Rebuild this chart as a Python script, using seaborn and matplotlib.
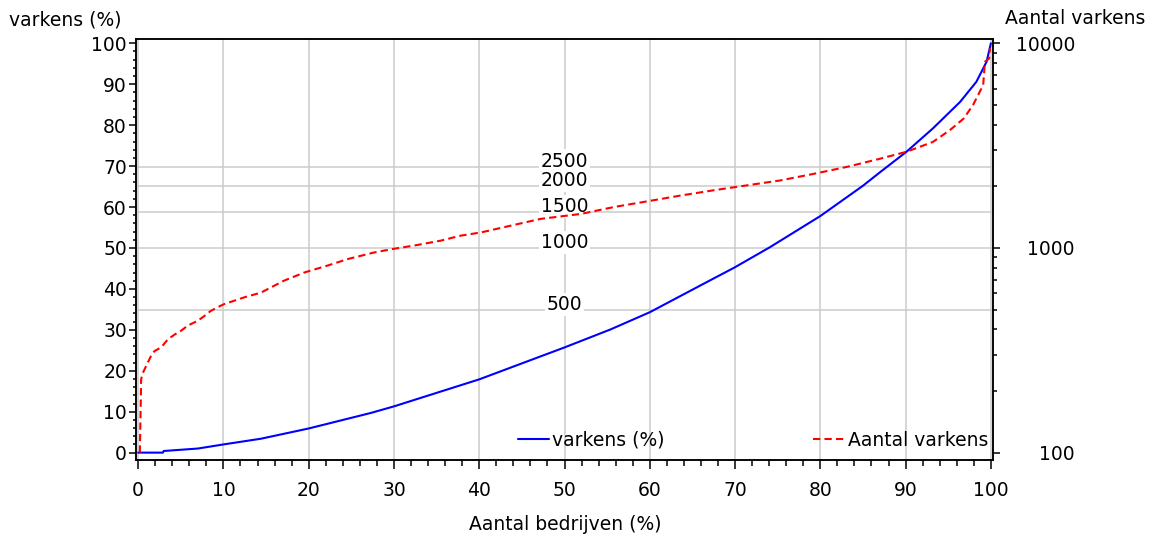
import matplotlib
matplotlib.use('Agg')
import numpy as np
import pandas as pd
import matplotlib.pyplot as plt
import matplotlib.transforms as mtrans
from matplotlib.ticker import MultipleLocator, LogLocator, NullFormatter
import seaborn as sns

# cumulatief % bedrijven vs cumulatief % varkens (Lorenz-curve)
farms_blue = [0, 2.9, 3.0, 7, 10, 14.4, 20, 27.3, 30, 40, 50, 55.4, 60, 65.9,
              70, 74.1, 80, 85, 87, 90.1, 93.2, 96.4, 98.3, 99.5, 100]
pigs_pct = [0, 0, 0.4, 1.0, 2.0, 3.4, 5.9, 9.7, 11.3, 17.9, 25.7, 30.1, 34.3,
            40.8, 45.3, 50.2, 57.8, 65.2, 68.5, 73.5, 79.2, 85.7, 90.6, 95.5, 100]

# aantal varkens per bedrijf (rechter as, log)
farms_red = [0.2, 0.3, 0.35, 0.55, 0.94, 1.5, 1.9, 2.7, 3.5, 4.3, 5.0, 5.8,
             7.0, 7.8, 8.5, 9.3, 10.1, 12.4, 14.4, 17.1, 19.5, 22.2, 24.6,
             27.7, 30.0, 32.4, 35.5, 37.8, 40.2, 47.2, 51.9, 55.8, 59.7, 63.6,
             67.5, 71.4, 75.3, 79.2, 83.1, 87.0, 90.1, 93.2, 95.2, 96.8, 97.9,
             99.1, 99.3, 99.8, 99.9]
pig_counts = [100, 169, 228, 245, 265, 296, 313, 327, 358, 378, 393, 417,
              441, 466, 492, 513, 532, 573, 605, 692, 759, 820, 883,
              951, 991, 1028, 1086, 1148, 1191, 1387, 1466, 1585, 1690, 1803,
              1914, 2023, 2138, 2301, 2489, 2729, 2951, 3296, 3767, 4285, 4989,
              6252, 8128, 8425, 9462]

ref_levels = [2500, 2000, 1500, 1000, 500]

df_blue = pd.DataFrame({'bedrijven': farms_blue, 'varkens': pigs_pct})
df_red = pd.DataFrame({'bedrijven': farms_red, 'aantal': pig_counts})

sns.set_theme(style='white')
plt.rcParams['font.family'] = ['DejaVu Sans']
plt.rcParams['font.size'] = 13.5
plt.rcParams['text.color'] = 'black'
plt.rcParams['xtick.color'] = 'black'
plt.rcParams['ytick.color'] = 'black'

W, H = 1154, 537
fig = plt.figure(figsize=(W / 100, H / 100), dpi=100)
ax = fig.add_axes([136 / W, 1 - 460 / H, (993 - 136) / W, (460 - 39) / H])
ax2 = ax.twinx()

PCT_LIM = (-1.8, 101.05)
CNT_LIM = tuple(100 * 10 ** (v / 50) for v in PCT_LIM)

# verticale rasterlijnen
ax.grid(axis='x', color='#cccccc', lw=1.1)
ax.grid(axis='y', visible=False)
ax2.grid(False)
ax.set_axisbelow(True)

# horizontale hulplijnen op de rechter (log) as, met labels in het midden
tr_line = mtrans.blended_transform_factory(ax.transAxes, ax2.transData)
tr_text = mtrans.blended_transform_factory(ax.transData, ax2.transData)
for lvl in ref_levels:
    ax.plot([0, 1], [lvl, lvl], transform=tr_line, color='#cccccc', lw=1.1,
            zorder=0.8, scalex=False, scaley=False)
    ax.text(50, lvl, str(lvl), transform=tr_text, ha='center', va='baseline',
            fontsize=13.5, zorder=1,
            bbox=dict(fc='white', ec='none', pad=1.5))

sns.lineplot(data=df_blue, x='bedrijven', y='varkens', ax=ax, color='#0000ff',
             lw=1.5, estimator=None, sort=False, legend=False,
             label='varkens (%)', zorder=3)
sns.lineplot(data=df_red, x='bedrijven', y='aantal', ax=ax2, color='#ff0000',
             lw=1.5, estimator=None, sort=False, legend=False,
             linestyle=(0, (3.5, 2)), label='Aantal varkens', zorder=3)

ax2.set_yscale('log')
ax.set_xlim(-0.25, 100.25)
ax.set_ylim(*PCT_LIM)
ax2.set_ylim(*CNT_LIM)
for a in (ax, ax2):
    a.set_xlabel('')
    a.set_ylabel('')
    for s in a.spines.values():
        s.set_color('black')
        s.set_linewidth(1.1)

ax.xaxis.set_major_locator(MultipleLocator(10))
ax.xaxis.set_minor_locator(MultipleLocator(2))
ax.yaxis.set_major_locator(MultipleLocator(10))
ax.yaxis.set_minor_locator(MultipleLocator(2))
ax.tick_params(axis='x', which='major', length=6.5, width=1.1, pad=8.5,
               direction='out', bottom=True, labelsize=13.5)
ax.tick_params(axis='x', which='minor', length=4, width=1.1,
               direction='out', bottom=True)
ax.tick_params(axis='y', which='major', length=5, width=1.1, pad=1.5,
               direction='out', left=True, labelsize=13.5)
ax.tick_params(axis='y', which='minor', length=2.5, width=1.1,
               direction='out', left=True)

ax2.set_yticks([100, 1000, 10000], labels=['100', '1000', '10000'], ha='right')
ax2.yaxis.set_minor_locator(LogLocator(base=10, subs=range(2, 10), numticks=20))
ax2.yaxis.set_minor_formatter(NullFormatter())
ax2.tick_params(axis='y', which='major', length=5, width=1.1, pad=54,
                direction='out', right=True, labelsize=13.5)
ax2.tick_params(axis='y', which='minor', length=3, width=1.1,
                direction='out', right=True)

h1, l1 = ax.get_legend_handles_labels()
h2, l2 = ax2.get_legend_handles_labels()
ax2.legend(h1 + h2, l1 + l2, ncol=2, frameon=False, loc='center right',
           bbox_to_anchor=(0.9942, 20 / 421), borderpad=0, borderaxespad=0,
           handlelength=1.65, handletextpad=0.2, columnspacing=7.9,
           fontsize=13.5)

fig.text(9 / W, 1 - 20 / H, 'varkens (%)', ha='left', va='center', fontsize=13.5)
fig.text(1005 / W, 1 - 19 / H, 'Aantal varkens', ha='left', va='center',
         fontsize=13.5)
fig.text(565 / W, 1 - 524 / H, 'Aantal bedrijven (%)', ha='center',
         va='center', fontsize=13.5)

fig.savefig('out.png', dpi=100, facecolor='white')
